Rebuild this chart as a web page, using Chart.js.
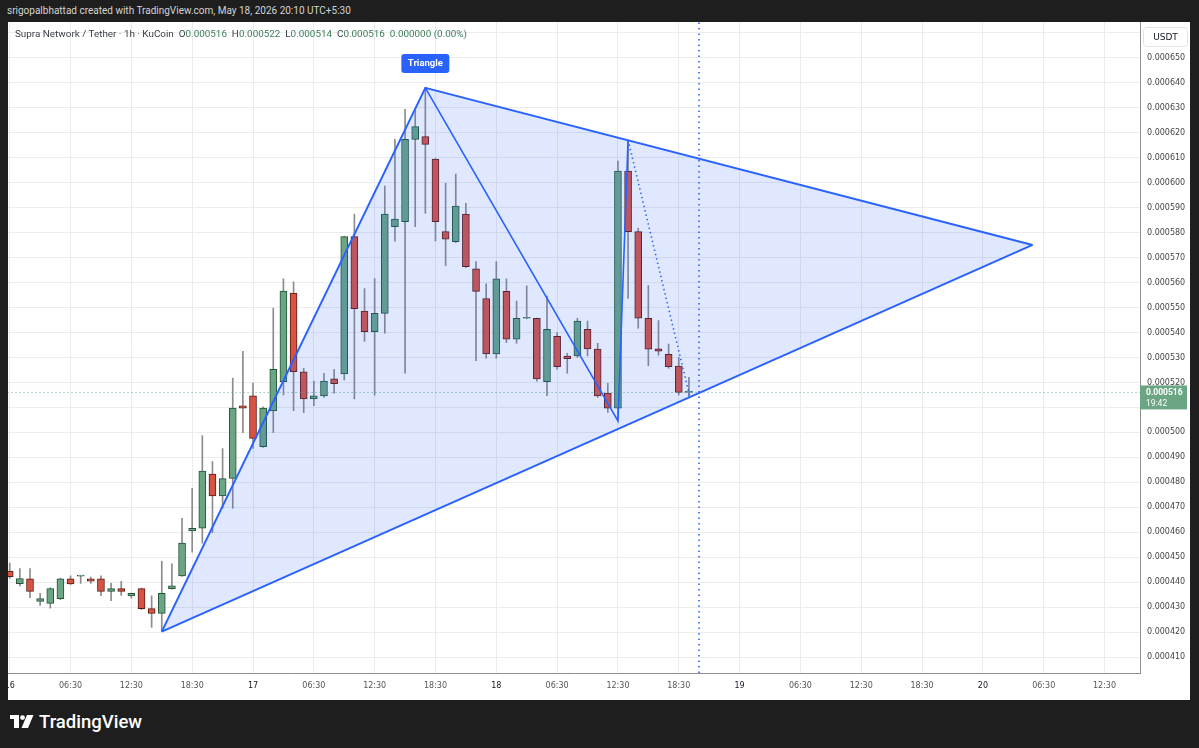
<!DOCTYPE html>
<html>
<head>
<meta charset="utf-8">
<script src="https://cdn.jsdelivr.net/npm/chart.js@4.4.1/dist/chart.umd.min.js"></script>
<style>
  html, body { margin: 0; padding: 0; }
  body { width: 1199px; height: 748px; background: #1e1e1e; position: relative; overflow: hidden; font-family: Roboto, "DejaVu Sans", sans-serif; }
  #stamp { position: absolute; left: 7px; top: 5px; color: #d4d4d4; font-size: 10px; }
  #panel { position: absolute; left: 8px; top: 22px; width: 1182px; height: 678px; background: #fff; }
  #legend { position: absolute; left: 7px; top: 6px; font-size: 9.9px; color: #3a3e48; white-space: pre; pointer-events: none; }
  #legend .v { color: #3c7d58; }
  #brand { position: absolute; left: 10px; top: 711px; color: #fff; font-size: 18.5px; font-weight: 500; display: flex; align-items: center; gap: 5px; }
</style>
</head>
<body>
<div id="stamp">srigopalbhattad created with TradingView.com, May 18, 2026 20:10 UTC+5:30</div>
<div id="panel">
  <canvas id="chart"></canvas>
  <div id="legend"></div>
</div>
<div id="brand">
  <svg width="24" height="14" viewBox="0 0 24 14"><rect x="0" y="0" width="9" height="4" fill="#fff"/><rect x="4" y="0" width="5" height="13" fill="#fff"/><circle cx="12.5" cy="2.6" r="2.4" fill="#fff"/><polygon points="17,0 23.5,0 18,13 11.5,13" fill="#fff"/></svg>
  <span>TradingView</span>
</div>
<script>
// hourly candles, index 0 = 16 May 00:30 (UTC+5:30), prices in millionths of USDT
const opens  = [444.4, 439.4, 441.3, 432.3, 431.5, 433.4, 441.3, 442.4, 441.3, 441.3, 436.3, 437.4, 434.5, 437.4, 429.4, 427.5, 437.4, 442.5, 460.5, 461.6,
                483.3, 474.5, 481.6, 510.6, 514.6, 494.3, 508.6, 520.3, 555.8, 524.3, 513.4, 514.6, 521.4, 523.4, 578.4, 548.6, 540.3, 547.7, 582.4, 584.4,
                617.4, 618.5, 609.5, 580.4, 576.4, 587.4, 565.5, 553.6, 531.4, 556.5, 537.3, 545.7, 545.7, 520.3, 538.5, 530.6, 530.6, 541.3, 533.4, 515.7,
                509.7, 604.7, 580.4, 545.7, 533.5, 531.3, 526.6, 516.0];
const highs  = [447.6, 445.4, 445.4, 435.5, 437.8, 441.6, 442.5, 442.7, 442.0, 442.5, 439.5, 440.3, 435.6, 437.6, 434.5, 448.4, 447.3, 465.6, 477.6, 498.7,
                488.3, 493.5, 521.7, 532.5, 519.7, 510.2, 549.8, 561.5, 560.3, 525.7, 520.5, 523.7, 525.3, 578.6, 587.4, 557.6, 561.6, 598.7, 617.4, 629.4,
                629.0, 637.9, 609.7, 599.8, 603.5, 591.8, 568.4, 559.5, 568.4, 561.5, 552.6, 558.7, 545.8, 554.6, 540.0, 531.7, 545.7, 544.6, 535.7, 519.7,
                608.7, 617.1, 581.8, 558.8, 544.8, 535.4, 530.1, 522.0];
const lows   = [441.5, 438.5, 433.8, 430.7, 429.6, 433.0, 439.0, 439.5, 439.5, 434.6, 432.6, 434.7, 433.6, 429.0, 421.9, 420.4, 437.2, 442.3, 452.0, 455.6,
                459.8, 469.6, 469.6, 499.9, 493.6, 494.0, 499.9, 515.0, 508.7, 507.9, 510.7, 514.0, 515.7, 521.0, 513.4, 536.5, 514.9, 539.7, 576.6, 523.7,
                582.4, 587.8, 576.7, 566.8, 576.0, 566.0, 528.7, 529.7, 529.7, 536.0, 535.7, 545.5, 520.5, 514.7, 525.3, 523.7, 530.0, 530.6, 514.0, 508.0,
                505.0, 553.7, 541.7, 526.7, 530.9, 525.7, 515.0, 514.0];
const closes = [442.2, 441.4, 436.3, 433.4, 437.4, 441.3, 439.3, 442.5, 440.4, 436.3, 437.4, 436.3, 435.5, 429.4, 427.5, 435.5, 438.5, 455.6, 461.6, 484.5,
                474.5, 481.5, 509.7, 509.7, 497.6, 509.7, 525.3, 556.6, 524.3, 513.4, 514.6, 520.5, 519.5, 578.4, 549.6, 540.3, 547.7, 587.4, 585.4, 617.4,
                622.5, 615.4, 584.4, 577.4, 590.7, 566.4, 556.5, 531.4, 561.5, 537.3, 545.7, 545.8, 521.4, 541.3, 526.3, 529.5, 544.6, 533.4, 514.6, 509.7,
                604.7, 580.4, 545.7, 533.3, 532.5, 526.3, 516.0, 516.0];

// time axis labels, one every 6 bars
const timeTicks = ['16', '06:30', '12:30', '18:30', '17', '06:30', '12:30', '18:30', '18', '06:30', '12:30', '18:30',
                   '19', '06:30', '12:30', '18:30', '20', '06:30', '12:30'];

// triangle drawing: pivots A, B, C, D and apex (bar index, price)
const pivotX = [15, 41, 60, 61];
const pivotY = [420.2, 638.0, 504.6, 617.1];
const apexX = 100.9, apexY = 575.1;
const projX = 67.1, projY = 514.1;   // dotted projection end on lower edge
const cursorX = 68;                  // dotted vertical marker
const countdown = '19:42';

const U = 1e-6;
const yMin = 403.6 * U, yMax = 664.4 * U;
const last = closes.length - 1;
const fmt = v => (v * U).toFixed(6);

const upFill = '#6ba583', upLine = '#225437', downFill = '#d75442', downLine = '#5b1a13';
const isUp = i => closes[i] >= opens[i];

// legend line
const chg = closes[last] - closes[last - 1];
document.getElementById('legend').innerHTML =
  'Supra Network / Tether · 1h · KuCoin  ' +
  'O<span class="v">' + fmt(opens[last]) + '</span>  ' +
  'H<span class="v">' + fmt(highs[last]) + '</span>  ' +
  'L<span class="v">' + fmt(lows[last]) + '</span>  ' +
  'C<span class="v">' + fmt(closes[last]) + '</span>  ' +
  '<span class="v">' + fmt(chg) + ' (' + (chg / closes[last - 1] * 100).toFixed(2) + '%)</span>';

function roundRect(ctx, x, y, w, h, r) {
  ctx.beginPath();
  ctx.moveTo(x + r, y);
  ctx.arcTo(x + w, y, x + w, y + h, r);
  ctx.arcTo(x + w, y + h, x, y + h, r);
  ctx.arcTo(x, y + h, x, y, r);
  ctx.arcTo(x, y, x + w, y, r);
  ctx.closePath();
}

const overlays = {
  id: 'overlays',
  afterDraw(chart) {
    const { ctx, scales: { x, y } } = chart;
    ctx.save();
    // pattern name tag above the top pivot
    const bx = x.getPixelForValue(pivotX[1]), by = y.getPixelForValue(pivotY[1] * U);
    roundRect(ctx, bx - 24, by - 34, 48, 19, 3);
    ctx.fillStyle = '#2962ff';
    ctx.fill();
    ctx.fillStyle = '#fff';
    ctx.font = 'bold 9.5px Roboto';
    ctx.textAlign = 'center';
    ctx.textBaseline = 'middle';
    ctx.fillText('Triangle', bx, by - 24.5);

    // currency box at top of price scale
    const ax = y.left;
    roundRect(ctx, ax + 3.5, 5.5, 44, 19, 3);
    ctx.fillStyle = '#fff';
    ctx.fill();
    ctx.strokeStyle = '#e0e3eb';
    ctx.lineWidth = 1;
    ctx.stroke();
    ctx.fillStyle = '#131722';
    ctx.font = '9px "DejaVu Sans"';
    ctx.fillText('USDT', ax + 25.5, 15.5);

    // last price tag
    const ly = y.getPixelForValue(closes[last] * U);
    ctx.fillStyle = upFill;
    ctx.fillRect(ax, ly - 7, 47, 24);
    ctx.fillStyle = '#fff';
    ctx.textAlign = 'left';
    ctx.font = 'bold 8.5px Roboto';
    ctx.fillText(fmt(closes[last]), ax + 6, ly);
    ctx.font = '8.5px Roboto';
    ctx.fillText(countdown, ax + 6, ly + 11);
    ctx.restore();
  }
};

const bars = opens.map((o, i) => i);
const blue = '#2962ff';

new Chart(document.getElementById('chart'), {
  type: 'bar',
  data: {
    datasets: [
      { type: 'line', order: 0, data: [{ x: pivotX[0], y: pivotY[0] * U }, { x: pivotX[1], y: pivotY[1] * U }, { x: apexX, y: apexY * U }],
        borderColor: blue, borderWidth: 2, pointRadius: 0, fill: '+1', backgroundColor: 'rgba(41, 98, 255, 0.15)' },
      { type: 'line', order: 0, data: [{ x: pivotX[0], y: pivotY[0] * U }, { x: apexX, y: apexY * U }],
        borderColor: blue, borderWidth: 2, pointRadius: 0, fill: false },
      { type: 'line', order: 0, data: pivotX.slice(1).map((v, k) => ({ x: v, y: pivotY[k + 1] * U })),
        borderColor: blue, borderWidth: 1.6, pointRadius: 0, fill: false },
      { type: 'line', order: 0, data: [{ x: pivotX[3], y: pivotY[3] * U }, { x: projX, y: projY * U }],
        borderColor: blue, borderWidth: 1.6, borderDash: [1.5, 3], pointRadius: 0, fill: false },
      { type: 'line', order: 0, data: [{ x: cursorX, y: yMin }, { x: cursorX, y: yMax }],
        borderColor: blue, borderWidth: 1.6, borderDash: [1.5, 4], pointRadius: 0, fill: false },
      { type: 'line', order: 1, data: [{ x: -1, y: closes[last] * U }, { x: 120, y: closes[last] * U }],
        borderColor: upFill, borderWidth: 1, borderDash: [1, 3], pointRadius: 0, fill: false },
      { order: 2, grouped: false, barThickness: 7, minBarLength: 1, borderSkipped: false, borderWidth: 1,
        data: bars.map(i => ({ x: i, y: [opens[i] * U, closes[i] * U] })),
        backgroundColor: bars.map(i => isUp(i) ? upFill : downFill),
        borderColor: bars.map(i => isUp(i) ? upLine : downLine) },
      { order: 3, grouped: false, barThickness: 1, borderWidth: 0,
        data: bars.map(i => ({ x: i, y: [lows[i] * U, highs[i] * U] })),
        backgroundColor: '#8c8c8c' }
    ]
  },
  options: {
    responsive: true,
    maintainAspectRatio: false,
    animation: false,
    layout: { padding: 0 },
    plugins: { legend: { display: false }, tooltip: { enabled: false } },
    scales: {
      x: {
        type: 'linear', offset: false, min: -0.17, max: 111.5,
        grid: { offset: false, color: '#ececec', drawTicks: false },
        border: { color: '#8f8f8f' },
        ticks: {
          stepSize: 6, includeBounds: false, autoSkip: false, maxRotation: 0, padding: 8,
          color: ctx => (ctx.tick.value % 24 === 0 ? '#131722' : '#555'),
          font: { family: 'DejaVu Sans', size: 8 },
          callback: v => timeTicks[v / 6] ?? ''
        },
        afterFit: s => { s.height = 27; s.paddingLeft = 0; s.paddingRight = 0; }
      },
      y: {
        type: 'linear', position: 'right', min: yMin, max: yMax, beginAtZero: false,
        grid: { color: '#ececec', drawTicks: false },
        border: { color: '#8f8f8f' },
        ticks: {
          stepSize: 10 * U, includeBounds: false, padding: 7, color: '#444',
          font: { family: 'DejaVu Sans', size: 8 },
          callback: v => v.toFixed(6)
        },
        afterFit: s => { s.width = 50; s.paddingTop = 0; s.paddingBottom = 0; }
      }
    }
  },
  plugins: [overlays]
});
</script>
</body>
</html>
